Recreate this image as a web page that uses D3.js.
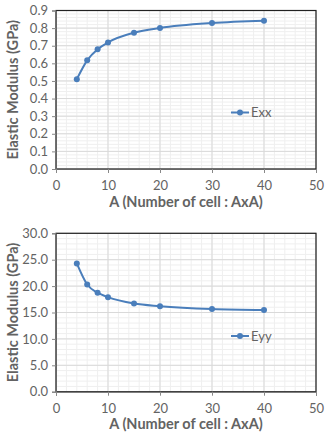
<!DOCTYPE html>
<html>
<head>
<meta charset="utf-8">
<script src="https://cdn.jsdelivr.net/npm/d3@7"></script>
<style>
body { margin: 0; background: #fff; }
text { font-family: Lato, "Open Sans", sans-serif; }
</style>
</head>
<body>
<div id="chart"></div>
<script>
const width = 326
const height = 433

// data
const cells = [4, 6, 8, 10, 15, 20, 30, 40]
const exx = [0.51, 0.617, 0.68, 0.719, 0.774, 0.801, 0.829, 0.842]
const eyy = [24.3, 20.3, 18.75, 17.9, 16.7, 16.2, 15.65, 15.45]
const xTicks = [0, 10, 20, 30, 40, 50]
const exxTicks = [0, 0.1, 0.2, 0.3, 0.4, 0.5, 0.6, 0.7, 0.8, 0.9]
const eyyTicks = [0, 5, 10, 15, 20, 25, 30]

const lineColor = "#4a7ebb"
const textColor = "#636363"

const svg = d3.select("div#chart").append("svg").attr("width", width).attr("height", height)

function drawPanel(cfg) {
    const x = d3.scaleLinear().domain([0, 50]).range([56, 316])
    const y = d3.scaleLinear().domain([0, cfg.yMax]).range([cfg.bottom, cfg.top])
    const g = svg.append("g")

    // minor grid
    const xMinor = d3.range(0, 50.001, 2)
    const yMinor = d3.range(0, cfg.yMax + 1e-9, cfg.yMax / (cfg.yTicks.length - 1) / 5)
    g.selectAll(".vminor").data(xMinor).enter().append("line")
        .attr("x1", d => x(d)).attr("x2", d => x(d))
        .attr("y1", cfg.top).attr("y2", cfg.bottom)
        .attr("stroke", "#efefef").attr("stroke-width", 1)
    g.selectAll(".hminor").data(yMinor).enter().append("line")
        .attr("x1", 56).attr("x2", 316)
        .attr("y1", d => y(d)).attr("y2", d => y(d))
        .attr("stroke", "#efefef").attr("stroke-width", 1)

    // major grid
    g.selectAll(".vmajor").data(xTicks).enter().append("line")
        .attr("x1", d => x(d)).attr("x2", d => x(d))
        .attr("y1", cfg.top).attr("y2", cfg.bottom)
        .attr("stroke", "#d9d9d9").attr("stroke-width", 1)
    g.selectAll(".hmajor").data(cfg.yTicks).enter().append("line")
        .attr("x1", 56).attr("x2", 316)
        .attr("y1", d => y(d)).attr("y2", d => y(d))
        .attr("stroke", "#d9d9d9").attr("stroke-width", 1)

    // frame
    g.append("rect")
        .attr("x", 56).attr("y", cfg.top)
        .attr("width", 260).attr("height", cfg.bottom - cfg.top)
        .attr("fill", "none").attr("stroke", "#222").attr("stroke-width", 1.2)

    // axes
    const yAxis = d3.axisLeft(y).tickValues(cfg.yTicks).tickFormat(cfg.fmt).tickSize(4).tickPadding(4)
    const yAxisGroup = g.append("g").attr("transform", `translate(56, 0)`).call(yAxis)
    const xAxis = d3.axisBottom(x).tickValues(xTicks).tickFormat(d3.format("d")).tickSize(4).tickPadding(8)
    const xAxisGroup = g.append("g").attr("transform", `translate(0, ${cfg.bottom})`).call(xAxis)
    ;[yAxisGroup, xAxisGroup].forEach(a => {
        a.select(".domain").attr("stroke", "#666")
        a.selectAll(".tick line").attr("stroke", "#888")
        a.selectAll(".tick text").attr("fill", textColor).attr("font-size", 13)
            .attr("font-family", "Lato, sans-serif")
    })

    // series
    const pts = cells.map((c, i) => ({x: c, y: cfg.values[i]}))
    g.append("path").datum(pts)
        .attr("fill", "none").attr("stroke", lineColor).attr("stroke-width", 2)
        .attr("d", d3.line().x(d => x(d.x)).y(d => y(d.y)).curve(d3.curveMonotoneX))
    g.selectAll(".pt").data(pts).enter().append("circle")
        .attr("cx", d => x(d.x)).attr("cy", d => y(d.y)).attr("r", 3)
        .attr("fill", lineColor)

    // legend
    g.append("line").attr("x1", 231).attr("x2", 249).attr("y1", cfg.legendY).attr("y2", cfg.legendY)
        .attr("stroke", lineColor).attr("stroke-width", 2)
    g.append("circle").attr("cx", 240).attr("cy", cfg.legendY).attr("r", 3).attr("fill", lineColor)
    g.append("text").attr("x", 251).attr("y", cfg.legendY + 4.5)
        .attr("fill", textColor).attr("font-size", 13).text(cfg.name)

    // titles
    g.append("text")
        .attr("transform", `translate(18, ${(cfg.top + cfg.bottom) / 2}) rotate(-90)`)
        .attr("text-anchor", "middle").attr("fill", textColor)
        .attr("font-size", 14.5).attr("font-weight", "bold")
        .text("Elastic Modulus  (GPa)")
    g.append("text")
        .attr("x", 186).attr("y", cfg.bottom + 37.5)
        .attr("text-anchor", "middle").attr("fill", textColor)
        .attr("font-size", 14.5).attr("font-weight", "bold")
        .text("A (Number of cell : AxA)")
}

drawPanel({top: 10.5, bottom: 169, yMax: 0.9, yTicks: exxTicks, fmt: d3.format(".1f"), values: exx, name: "Exx", legendY: 112.5})
drawPanel({top: 233.3, bottom: 391.7, yMax: 30, yTicks: eyyTicks, fmt: d3.format(".1f"), values: eyy, name: "Eyy", legendY: 336})
</script>
</body>
</html>
